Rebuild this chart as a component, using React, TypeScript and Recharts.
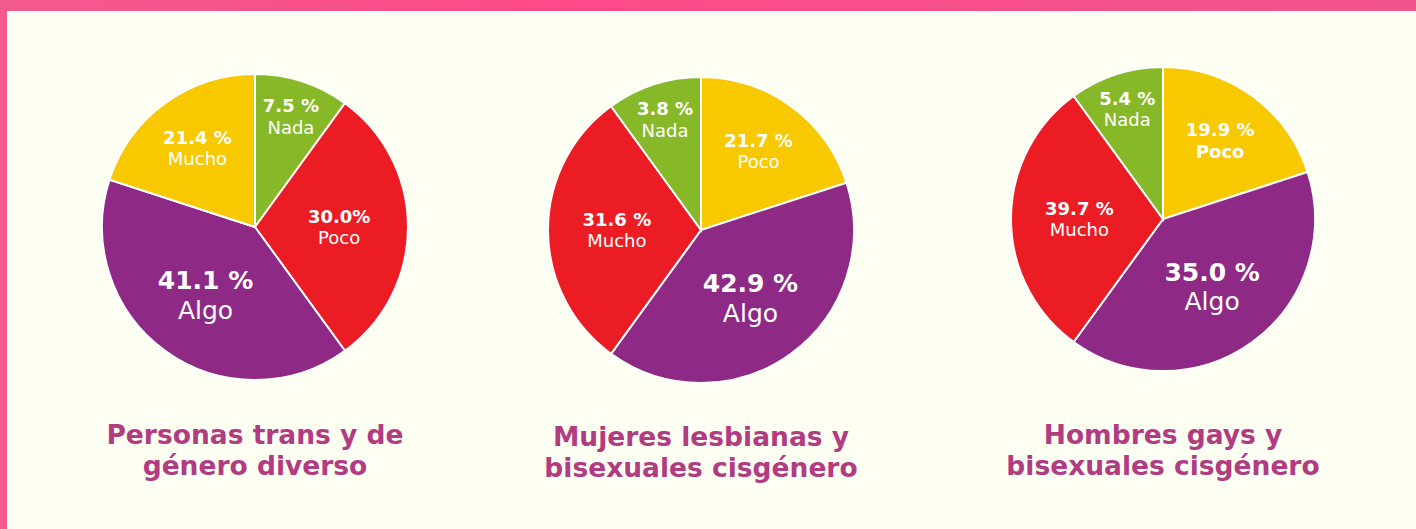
import { PieChart, Pie, Cell } from "recharts";

const VERDE = "#86B828";
const ROJO = "#EC1C24";
const MORADO = "#8E2A86";
const AMARILLO = "#F8C800";

const titulos = [
  ["Personas trans y de", "género diverso"],
  ["Mujeres lesbianas y", "bisexuales cisgénero"],
  ["Hombres gays y", "bisexuales cisgénero"],
];

// categorías en el orden en que aparecen (sentido horario desde arriba)
const categoriasTrans = ["Nada", "Poco", "Algo", "Mucho"];
const etiquetasTrans = ["7.5 %", "30.0%", "41.1 %", "21.4 %"];
const porcionesTrans = [10, 30, 40, 20];

const categoriasLesb = ["Poco", "Algo", "Mucho", "Nada"];
const etiquetasLesb = ["21.7 %", "42.9 %", "31.6 %", "3.8 %"];
const porcionesLesb = [20, 40, 30, 10];

const categoriasGays = ["Poco", "Algo", "Mucho", "Nada"];
const etiquetasGays = ["19.9 %", "35.0 %", "39.7 %", "5.4 %"];
const porcionesGays = [20, 40, 30, 10];

const FONT = "'DejaVu Sans', sans-serif";
const RAD = Math.PI / 180;

const panels = [
  {
    cats: categoriasTrans, labels: etiquetasTrans, shares: porcionesTrans,
    colors: [VERDE, ROJO, MORADO, AMARILLO],
    cx: 255, cy: 227, r: 153, boldName: "", titleY: 419, title: titulos[0],
  },
  {
    cats: categoriasLesb, labels: etiquetasLesb, shares: porcionesLesb,
    colors: [AMARILLO, MORADO, ROJO, VERDE],
    cx: 701, cy: 230, r: 153, boldName: "", titleY: 421, title: titulos[1],
  },
  {
    cats: categoriasGays, labels: etiquetasGays, shares: porcionesGays,
    colors: [AMARILLO, MORADO, ROJO, VERDE],
    cx: 1163, cy: 219, r: 152, boldName: "Poco", titleY: 419, title: titulos[2],
  },
];

const SIZE = 360;

function makeLabel(boldName: string) {
  return (props: any) => {
    const { cx, cy, midAngle, outerRadius, percent, payload } = props;
    const big = percent > 0.35;
    const f = percent < 0.15 ? 0.76 : percent < 0.25 ? 0.64 : 0.55;
    const R = outerRadius * f;
    const x = cx + R * Math.cos(-midAngle * RAD);
    const y = cy + R * Math.sin(-midAngle * RAD);
    const fs = big ? 25 : 18;
    const step = big ? 29.5 : 21.5;
    return (
      <text x={x} y={y - step / 2 + fs * 0.36} fill="#fff" textAnchor="middle"
        fontFamily={FONT} fontSize={fs}>
        <tspan x={x} fontWeight={700}>{payload.label}</tspan>
        <tspan x={x} dy={step} fontWeight={payload.name === boldName ? 700 : 400}>{payload.name}</tspan>
      </text>
    );
  };
}

export default function App() {
  return (
    <div style={{ position: "absolute", left: 0, top: 0, width: 1416, height: 529, background: "linear-gradient(90deg, #F25A8E, #FF4A88 40%, #F0558C)", overflow: "hidden" }}>
      <div style={{ position: "absolute", left: 7, top: 11, right: 0, bottom: 0, background: "#FDFFF3" }} />
      {panels.map((p, i) => {
        const data = p.cats.map((c, j) => ({ name: c, value: p.shares[j], label: p.labels[j] }));
        return (
          <div key={i}>
            <div style={{ position: "absolute", left: p.cx - SIZE / 2, top: p.cy - SIZE / 2 }}>
              <PieChart width={SIZE} height={SIZE} margin={{ top: 0, right: 0, bottom: 0, left: 0 }}>
                <Pie data={data} dataKey="value" cx={SIZE / 2} cy={SIZE / 2} outerRadius={p.r}
                  startAngle={90} endAngle={-270} stroke="#fff" strokeWidth={2}
                  labelLine={false} label={makeLabel(p.boldName)} isAnimationActive={false}>
                  {data.map((_d, j) => (
                    <Cell key={j} fill={p.colors[j]} />
                  ))}
                </Pie>
              </PieChart>
            </div>
            <div style={{ position: "absolute", left: p.cx - 220, width: 440, top: p.titleY, textAlign: "center", fontFamily: FONT, fontWeight: 700, fontSize: 26.5, lineHeight: "31px", color: "#B23C82" }}>
              {p.title.map((t, k) => <div key={k}>{t}</div>)}
            </div>
          </div>
        );
      })}
    </div>
  );
}
